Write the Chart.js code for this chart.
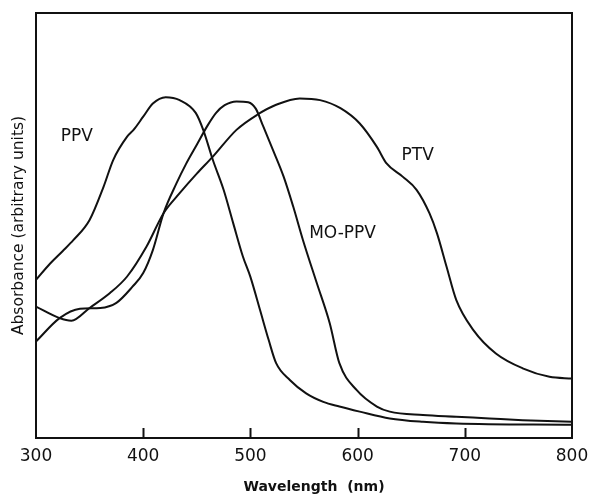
<!DOCTYPE html>
<html><head><meta charset="utf-8">
<script src="https://cdn.jsdelivr.net/npm/chart.js@4/dist/chart.umd.min.js"></script>
<style>html,body{margin:0;padding:0;background:#fff}#wrap{width:589px;height:496px;position:relative}</style>
</head><body><div id="wrap"><canvas id="c"></canvas></div>
<script>
// Wavelength ticks (nm)
const xTickValues = [300, 400, 500, 600, 700, 800];

// PPV absorbance (arbitrary units)
const ppvWavelength = [300,313,325,335,350,363,372,385,391,400,409,421,434,449,456,465,475,484,493,500,509,517,524,537,552,568,583,602,630,661,692,800];
const ppvAbsorbance = [37.2,41,44,46.6,51.3,59.1,65.4,70.9,72.5,75.6,78.7,80.2,79.5,76.5,72.5,65.4,58.4,50.5,42.7,37.9,30.1,23.1,17.6,13.6,10.5,8.5,7.4,6.2,4.6,3.8,3.4,3.1];

// MO-PPV absorbance
const moppvWavelength = [300,322,341,360,375,390,400,409,419,431,440,450,460,468,476,487,498,505,512,521,531,540,549,562,574,583,599,618,630,661,692,723,754,800];
const moppvAbsorbance = [22.7,28.2,30.4,30.6,31.8,35.6,38.8,44.2,52.9,59.9,64.5,69,73.5,76.5,78.3,79.2,79,77.5,73.3,67.8,61.5,54.4,46.6,36.4,27,17.6,11.3,7.4,6.2,5.4,5,4.6,4.2,3.8];

// PTV absorbance
const ptvWavelength = [300,322,333,350,369,385,403,419,434,450,465,487,506,524,546,565,584,602,618,627,642,655,667,674,683,692,708,729,754,779,800];
const ptvAbsorbance = [30.9,28.2,27.6,30.6,34.1,38,45,52.9,57.6,62.2,66.2,72.5,76,78.4,79.9,79.5,77.6,74,68.5,64.6,61.5,58.4,52.9,48.2,40.3,32.5,25.4,19.9,16.4,14.4,14.0];

// Curve labels (text and anchor in data units)
const curveLabels = ['PPV', 'MO-PPV', 'PTV'];
const curveLabelAnchors = [[338, 70.9], [586, 48.2], [656, 66.4]];
const xAxisTitle = 'Wavelength  (nm)';

const pts = (xs, ys) => xs.map((x, i) => ({x: x, y: ys[i]}));
const lineStyle = {borderColor: '#111', borderWidth: 2, pointRadius: 0, fill: false, cubicInterpolationMode: 'monotone', showLine: true};

const framePlugin = {
  id: 'frame',
  afterDatasetsDraw(chart) {
    const {ctx, chartArea: a, scales: {x, y}} = chart;
    ctx.save();
    ctx.strokeStyle = '#111';
    ctx.lineWidth = 2;
    ctx.strokeRect(a.left, a.top, a.right - a.left, a.bottom - a.top);
    // inward tick marks
    xTickValues.slice(1, -1).forEach(v => {
      const px = Math.round(x.getPixelForValue(v)) + 0.5;
      ctx.beginPath();
      ctx.moveTo(px, a.bottom);
      ctx.lineTo(px, a.bottom - 10);
      ctx.stroke();
    });
    // curve labels
    ctx.fillStyle = '#111';
    ctx.font = '17px "DejaVu Sans"';
    ctx.textAlign = 'center';
    ctx.textBaseline = 'middle';
    curveLabels.forEach((t, i) => {
      ctx.fillText(t, x.getPixelForValue(curveLabelAnchors[i][0]), y.getPixelForValue(curveLabelAnchors[i][1]));
    });
    // x-axis title (slightly right of centre, as in the original)
    ctx.font = 'bold 14px "DejaVu Sans"';
    ctx.fillText(xAxisTitle, (a.left + a.right) / 2 + 10, 487);
    ctx.restore();
  }
};

new Chart(document.getElementById('c'), {
  type: 'scatter',
  data: {
    datasets: [
      Object.assign({label: 'PPV', data: pts(ppvWavelength, ppvAbsorbance)}, lineStyle),
      Object.assign({label: 'MO-PPV', data: pts(moppvWavelength, moppvAbsorbance)}, lineStyle),
      Object.assign({label: 'PTV', data: pts(ptvWavelength, ptvAbsorbance)}, lineStyle)
    ]
  },
  options: {
    responsive: true,
    maintainAspectRatio: false,
    animation: false,
    layout: {padding: {top: 13, right: 17, left: 0, bottom: 0}},
    plugins: {legend: {display: false}, tooltip: {enabled: false}},
    scales: {
      x: {
        type: 'linear', min: 300, max: 800,
        afterBuildTicks: s => { s.ticks = xTickValues.map(v => ({value: v})); },
        afterFit: s => { s.height = 58; },
        grid: {display: false},
        border: {display: false},
        ticks: {color: '#111', padding: 0, maxRotation: 0, font: {family: 'DejaVu Sans', size: 17}},
        title: {display: false}
      },
      y: {
        type: 'linear', min: 0, max: 100,
        afterFit: s => { s.width = 36; },
        grid: {display: false},
        border: {display: false},
        ticks: {display: false},
        title: {display: true, text: 'Absorbance (arbitrary units)', color: '#111', padding: {top: 10, bottom: 0}, font: {family: 'DejaVu Sans', size: 15.5}}
      }
    }
  },
  plugins: [framePlugin]
});
</script>
</body></html>
